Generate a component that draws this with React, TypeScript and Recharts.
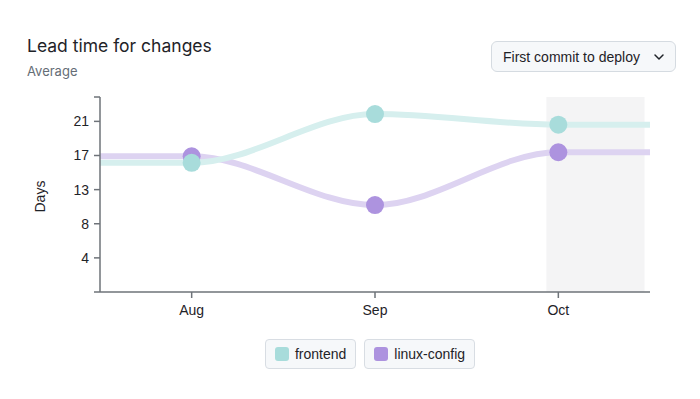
import { LineChart, Line, XAxis, YAxis, ReferenceArea, Legend } from "recharts"

// months shown on the x axis; edge rows carry the first/last values out to the plot edges
const months = ["Aug", "Sep", "Oct"]
const frontend = [15.9, 21.9, 20.6]
const linuxConfig = [16.7, 10.7, 17.2]
const yTicks = [0, 4.2, 8.4, 12.6, 16.8, 21, 24]

const colors = {
  frontendDot: "#a8dcdb",
  frontendLine: "#d6efee",
  linuxDot: "#ad93df",
  linuxLine: "#ddd3f1",
  axis: "#6e7379",
  text: "#1f2328",
  muted: "#656d76",
}

const data = [
  { x: -0.5, frontend: frontend[0], linuxConfig: linuxConfig[0], real: false },
  ...months.map((m, i) => ({ x: i, month: m, frontend: frontend[i], linuxConfig: linuxConfig[i], real: true })),
  { x: months.length - 0.5, frontend: frontend[months.length - 1], linuxConfig: linuxConfig[months.length - 1], real: false },
]

const makeDot = (fill: string) => (props: any) => {
  const { cx, cy, payload, index } = props
  if (!payload.real) return <g key={index} />
  return <circle key={index} cx={cx} cy={cy} r={9} fill={fill} />
}

const LegendPills = (props: any) => {
  const order = ["frontend", "linux-config"]
  const items = [...(props.payload || [])].sort((a: any, b: any) => order.indexOf(a.value) - order.indexOf(b.value))
  return (
    <div style={{ display: "flex", justifyContent: "center", gap: 8, marginLeft: 60 }}>
      {items.map((it: any) => (
        <div
          key={it.value}
          style={{
            display: "flex",
            alignItems: "center",
            gap: 6,
            height: 28,
            padding: "0 9px",
            border: "1px solid #d8dde3",
            borderRadius: 4,
            background: "#f6f8fa",
            fontSize: 14,
            color: colors.text,
          }}
        >
          <span style={{ width: 14, height: 14, borderRadius: 3, background: it.payload.dotColor }} />
          {it.value}
        </div>
      ))}
    </div>
  )
}

export default function App() {
  return (
    <div
      style={{
        position: "absolute",
        top: 0,
        left: 0,
        width: 700,
        height: 399,
        background: "#fff",
        fontFamily: "'Liberation Sans', Arial, sans-serif",
      }}
    >
      <div style={{ position: "absolute", left: 27, top: 35, fontFamily: "Inter, sans-serif", fontSize: 17.5, color: colors.text }}>
        Lead time for changes
      </div>
      <div style={{ position: "absolute", left: 27, top: 63, fontFamily: "Inter, sans-serif", fontSize: 13, color: colors.muted }}>
        Average
      </div>
      <div
        style={{
          position: "absolute",
          left: 491,
          top: 41,
          width: 185,
          height: 31,
          boxSizing: "border-box",
          border: "1px solid #d5dbe1",
          borderRadius: 6,
          background: "#f6f8fa",
          display: "flex",
          alignItems: "center",
          paddingLeft: 11,
          whiteSpace: "nowrap",
          fontSize: 14,
          color: colors.text,
        }}
      >
        First commit to deploy
        <svg width="12" height="8" viewBox="0 0 12 8" style={{ marginLeft: 13 }}>
          <path d="M2 2l4 4 4-4" fill="none" stroke={colors.text} strokeWidth={1.5} strokeLinecap="round" strokeLinejoin="round" />
        </svg>
      </div>

      <div style={{ position: "absolute", left: 0, top: 0 }}>
        <LineChart width={700} height={399} data={data} margin={{ top: 97, right: 50, left: 30, bottom: 41 }}>
          <ReferenceArea x1={1.935} x2={2.47} y1={0} y2={24} fill="#f4f4f5" fillOpacity={1} stroke="none" />
          <XAxis
            dataKey="x"
            type="number"
            domain={[-0.5, 2.5]}
            ticks={[0, 1, 2]}
            tickFormatter={(v: number) => months[v] ?? ""}
            allowDataOverflow
            height={30}
            tickSize={6}
            tickMargin={7}
            tick={{ fill: colors.text, fontSize: 14 }}
            axisLine={{ stroke: colors.axis, strokeWidth: 1.5 }}
            tickLine={{ stroke: colors.axis, strokeWidth: 1.5 }}
          />
          <YAxis
            type="number"
            domain={[0, 24]}
            ticks={yTicks}
            interval={0}
            tickFormatter={(v: number) => (v === 0 || v === 24 ? "" : String(Math.round(v)))}
            width={70}
            tickSize={6}
            tickMargin={5}
            tick={{ fill: colors.text, fontSize: 14 }}
            axisLine={{ stroke: colors.axis, strokeWidth: 1.5 }}
            tickLine={{ stroke: colors.axis, strokeWidth: 1.5 }}
            label={{ value: "Days", angle: -90, position: "insideLeft", offset: 10, fill: colors.text, fontSize: 14, dy: 18 }}
          />
          <Line
            dataKey="linuxConfig"
            name="linux-config"
            type="monotone"
            stroke={colors.linuxLine}
            strokeWidth={6}
            dot={makeDot(colors.linuxDot)}
            activeDot={false}
            isAnimationActive={false}
            {...({ dotColor: colors.linuxDot } as any)}
          />
          <Line
            dataKey="frontend"
            name="frontend"
            type="monotone"
            stroke={colors.frontendLine}
            strokeWidth={6}
            dot={makeDot(colors.frontendDot)}
            activeDot={false}
            isAnimationActive={false}
            {...({ dotColor: colors.frontendDot } as any)}
          />
          <Legend verticalAlign="bottom" height={36} content={<LegendPills />} wrapperStyle={{ bottom: 24 }} />
        </LineChart>
      </div>
    </div>
  )
}
